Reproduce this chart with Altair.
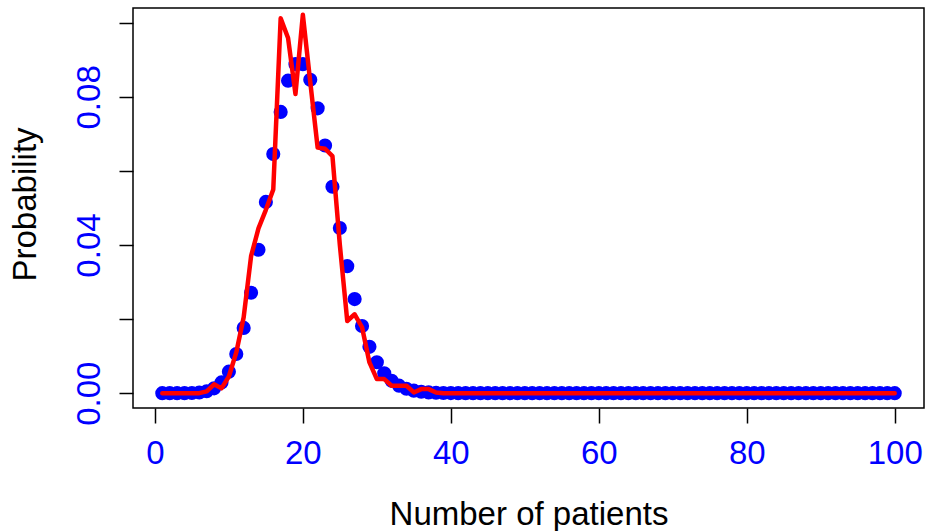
import altair as alt
import pandas as pd

# Number of patients (x) 1..100
patients = list(range(1, 101))

# Blue points: theoretical probabilities
theory = [4.12e-8, 4.12e-7, 2.75e-6, 1.37e-5, 5.50e-5, 1.83e-4, 5.23e-4, 1.31e-3, 2.91e-3, 5.81e-3,
          0.01057, 0.01762, 0.02711, 0.03874, 0.05165, 0.06456, 0.07595, 0.08439, 0.08884, 0.08884,
          0.08461, 0.07691, 0.06688, 0.05573, 0.04459, 0.03430, 0.02541, 0.01815, 0.01252, 0.00834,
          0.00538, 0.00336, 0.00204, 0.00120, 0.000687, 0.000382, 0.000206, 0.000109, 0.0000556, 0.0000278,
          0, 0, 0, 0, 0, 0, 0, 0, 0, 0,
          0, 0, 0, 0, 0, 0, 0, 0, 0, 0,
          0, 0, 0, 0, 0, 0, 0, 0, 0, 0,
          0, 0, 0, 0, 0, 0, 0, 0, 0, 0,
          0, 0, 0, 0, 0, 0, 0, 0, 0, 0,
          0, 0, 0, 0, 0, 0, 0, 0, 0, 0]

# Red line: simulated probabilities
simulated = [0, 0, 0, 0, 0, 0, 0.0005, 0.0024, 0.0013, 0.0045,
             0.011, 0.0205, 0.037, 0.0445, 0.0495, 0.055, 0.1012, 0.0959, 0.0808, 0.1022,
             0.084, 0.0663, 0.066, 0.064, 0.040, 0.0195, 0.0213, 0.0178, 0.0083, 0.0038,
             0.0038, 0.002, 0.002, 0.002, 0.0002, 0.0011, 0.0011, 0.0002, 0, 0,
             0, 0, 0, 0, 0, 0, 0, 0, 0, 0,
             0, 0, 0, 0, 0, 0, 0, 0, 0, 0,
             0, 0, 0, 0, 0, 0, 0, 0, 0, 0,
             0, 0, 0, 0, 0, 0, 0, 0, 0, 0,
             0, 0, 0, 0, 0, 0, 0, 0, 0, 0,
             0, 0, 0, 0, 0, 0, 0, 0, 0, 0]

x_ticks = [0, 20, 40, 60, 80, 100]
y_ticks = [0, 0.02, 0.04, 0.06, 0.08, 0.10]

df = pd.DataFrame({"n": patients, "theory": theory, "sim": simulated})

FONT = "Liberation Sans"

xscale = alt.Scale(domain=[-2.96, 103.96], nice=False, zero=False)
yscale = alt.Scale(domain=[-0.004, 0.104], nice=False, zero=False)

xaxis = alt.Axis(
    values=x_ticks, title="Number of patients", grid=False, domain=False,
    tickSize=15, tickWidth=1.5, tickColor="black",
    labelColor="blue", labelFontSize=33, labelFont=FONT, labelBaseline="alphabetic",
    labelPadding=40, labelFlush=False, labelOverlap=False,
    titleFont=FONT, titleFontSize=33, titleFontWeight="normal", titleColor="black",
    titleBaseline="alphabetic", titleY=116,
)
yaxis = alt.Axis(
    values=y_ticks, title="Probability", grid=False, domain=False,
    tickSize=14, tickWidth=1.5, tickColor="black",
    labelColor="blue", labelFontSize=33, labelFont=FONT, labelAngle=-90,
    labelAlign="center", labelBaseline="alphabetic", labelPadding=20,
    labelFlush=False, labelOverlap=False,
    labelExpr="round(datum.value*100) % 4 == 0 ? format(datum.value, '.2f') : ''",
    titleFont=FONT, titleFontSize=33, titleFontWeight="normal", titleColor="black",
    titleBaseline="alphabetic", titleAngle=-90, titleX=-98, titleY=196,
)

base = alt.Chart(df)

points = base.mark_circle(color="blue", opacity=1, size=200).encode(
    x=alt.X("n:Q", scale=xscale, axis=xaxis),
    y=alt.Y("theory:Q", scale=yscale, axis=yaxis),
)

line = base.mark_line(color="red", strokeWidth=4.5, strokeCap="round", strokeJoin="round").encode(
    x=alt.X("n:Q", scale=xscale),
    y=alt.Y("sim:Q", scale=yscale),
)

chart = alt.layer(points, line).properties(
    width=791, height=400,
    autosize=alt.AutoSizeParams(type="none"),
    padding={"left": 133, "top": 8, "right": 3, "bottom": 123},
    background="white",
).configure_view(stroke="black", strokeWidth=1.5)

chart.save("out.html", embed_options={"renderer": "svg", "actions": False})
